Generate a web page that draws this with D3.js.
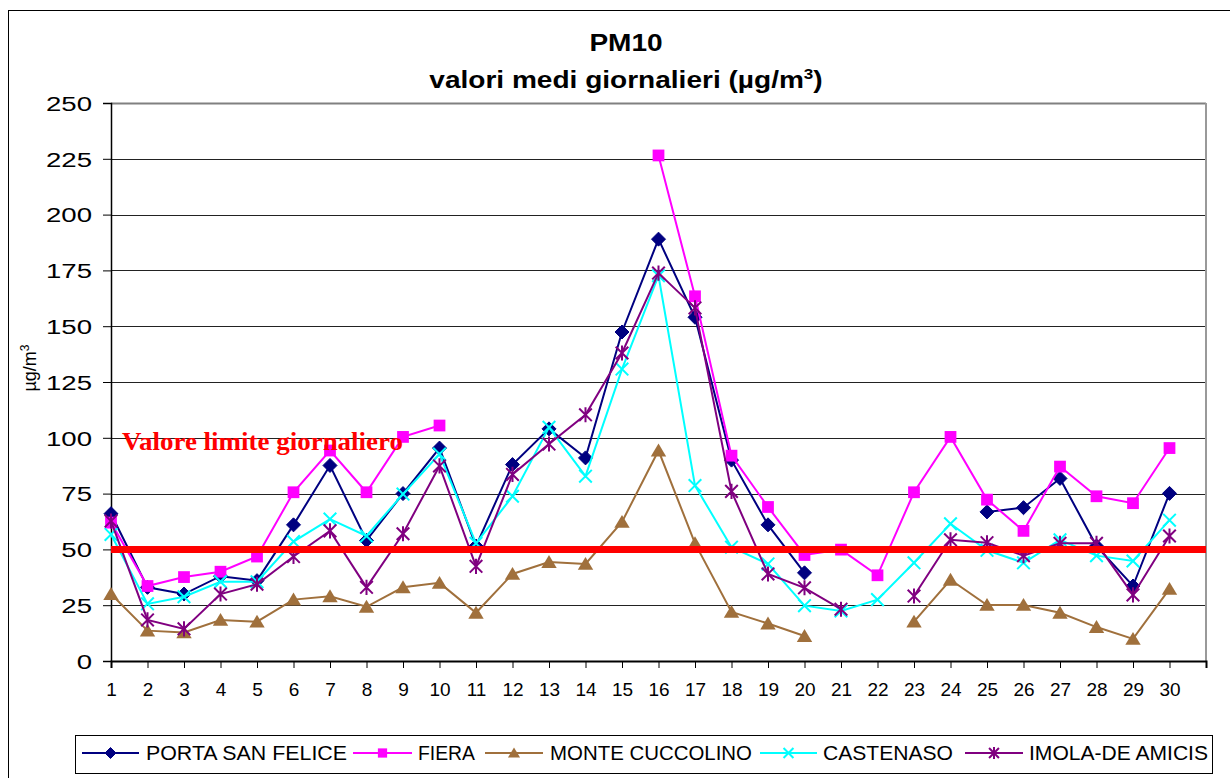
<!DOCTYPE html>
<html><head><meta charset="utf-8">
<script src="https://cdn.jsdelivr.net/npm/d3@7"></script>
<style>body{margin:0;background:#fff}svg{display:block}</style>
</head><body>
<script>
const days = [1,2,3,4,5,6,7,8,9,10,11,12,13,14,15,16,17,18,19,20,21,22,23,24,25,26,27,28,29,30];
const yTicks = [0,25,50,75,100,125,150,175,200,225,250];
const porta = [66,33,30,38,36,61,87.6,54,75,95.4,51.5,88,104,91,147.4,189,154,90,61,39.5,null,null,null,null,66.8,68.7,81.8,51.5,33.6,75.1];
const fiera = [62,33.6,37.6,40,46.8,75.6,94.3,75.6,100.4,105.5,null,null,null,null,null,226.5,163.4,92,69,47.5,49.9,38.4,75.6,100.4,72.3,58.3,87.1,73.8,70.7,95.4];
const monte = [30,13.6,12.8,18.4,17.6,27.5,29,24.3,33,35,21.6,39,44.3,43.5,62.3,94.3,52.7,22,16.8,11.2,null,null,17.6,36.4,25.1,25.1,21.6,15.2,9.9,32.3];
const castenaso = [56.7,25.6,28.8,35.5,35.5,53.5,63.6,56,74.8,92.7,52.7,73.8,104.7,82.8,130.8,172.6,78.6,51,43.5,24.8,22.4,27.5,44,61.5,49.6,44,54.3,47.2,44.8,63.1];
const imola = [62.7,18.4,14.4,30,34.4,46.8,58.3,33,57,87.4,42.4,83.6,97.2,110.3,138,173.8,158.2,76,39,32.8,23.2,null,29.1,54.3,53,47.2,52.7,52.7,29.6,56];
const seriesNames = ["PORTA SAN FELICE","FIERA","MONTE CUCCOLINO","CASTENASO","IMOLA-DE AMICIS"];
const limitValue = 50;
const limitLabel = "Valore limite giornaliero";

const series = [
  {name: seriesNames[0], values: porta, color: "#000080", marker: "diamond"},
  {name: seriesNames[1], values: fiera, color: "#FF00FF", marker: "square"},
  {name: seriesNames[2], values: monte, color: "#A0703C", marker: "triangle"},
  {name: seriesNames[3], values: castenaso, color: "#00FFFF", marker: "x"},
  {name: seriesNames[4], values: imola, color: "#800080", marker: "star"}
];

const W = 1230, H = 778;
const svg = d3.select("body").append("svg").attr("width", W).attr("height", H);
const font = "Arial, 'Liberation Sans', sans-serif";

// outer frame
svg.append("rect").attr("x", 8.5).attr("y", 10.5).attr("width", 1230).attr("height", 800)
  .attr("fill", "none").attr("stroke", "#000").attr("stroke-width", 1);

const x = d3.scaleLinear().domain([1, 31]).range([111, 1206]);
const y = d3.scaleLinear().domain([0, 250]).range([661, 103]);

// title
const tg = svg.append("g").attr("transform", "translate(626,0) scale(1.22,1)");
tg.append("text").attr("x", 0).attr("y", 51).attr("text-anchor", "middle")
  .attr("font-family", font).attr("font-weight", "bold").attr("font-size", 23).text("PM10");
const t2 = tg.append("text").attr("x", 0).attr("y", 88).attr("text-anchor", "middle")
  .attr("font-family", font).attr("font-weight", "bold").attr("font-size", 23);
t2.append("tspan").text("valori medi giornalieri (µg/m");
t2.append("tspan").attr("font-size", 14).attr("dy", -9).text("3");
t2.append("tspan").attr("dy", 9).text(")");

// gridlines
svg.append("g").selectAll("line").data(yTicks.filter(v => v > 0)).join("line")
  .attr("x1", x(1)).attr("x2", x(31)).attr("y1", d => Math.round(y(d)) + 0.5).attr("y2", d => Math.round(y(d)) + 0.5)
  .attr("stroke", d => d === 250 ? "#808080" : "#222").attr("stroke-width", d => d === 250 ? 2 : 1);
// right border of plot
svg.append("line").attr("x1", x(31)).attr("x2", x(31)).attr("y1", y(250)).attr("y2", y(0))
  .attr("stroke", "#999").attr("stroke-width", 2);

// y axis
const yAxis = svg.append("g").attr("transform", `translate(${x(1)},0)`)
  .call(d3.axisLeft(y).tickValues(yTicks).tickSize(8).tickPadding(0).tickFormat(d3.format("d")));
yAxis.select(".domain").attr("stroke", "#000").attr("stroke-width", 1.5);
yAxis.selectAll(".tick line").attr("stroke", "#000");
yAxis.selectAll(".tick text").attr("font-family", font).attr("font-size", 20).attr("fill", "#000")
  .attr("x", 0).attr("transform", "translate(-19,0) scale(1.38,1)").attr("dy", "0.36em");

// x axis
const xAxis = svg.append("g").attr("transform", `translate(0,${y(0)})`)
  .call(d3.axisBottom(x).tickValues(days.concat([31])).tickSize(7).tickPadding(15)
    .tickFormat(d => days.includes(d) ? String(d) : ""));
xAxis.select(".domain").attr("stroke", "#000").attr("stroke-width", 2);
xAxis.selectAll(".tick line").attr("stroke", "#000");
xAxis.selectAll(".tick text").attr("font-family", font).attr("font-size", 19).attr("fill", "#000");

// y label
svg.append("text").attr("transform", "translate(36,368) rotate(-90)").attr("text-anchor", "middle")
  .attr("font-family", font).attr("font-size", 18).attr("fill", "#000")
  .call(t => { t.append("tspan").text("µg/m"); t.append("tspan").attr("font-size", 12).attr("dy", -7).text("3"); });

// markers
function drawMarker(g, type, color, size) {
  const s = size;
  if (type === "diamond") {
    g.append("path").attr("d", `M0,${-s/2}L${s/2},0L0,${s/2}L${-s/2},0Z`).attr("fill", color).attr("stroke", color);
  } else if (type === "square") {
    g.append("rect").attr("x", -s*0.42).attr("y", -s*0.42).attr("width", s*0.84).attr("height", s*0.84).attr("fill", color);
  } else if (type === "triangle") {
    g.append("path").attr("d", `M0,${-s*0.5}L${s*0.55},${s*0.42}L${-s*0.55},${s*0.42}Z`).attr("fill", color);
  } else if (type === "x") {
    const h = s*0.45;
    g.append("path").attr("d", `M${-h},${-h}L${h},${h}M${-h},${h}L${h},${-h}`).attr("stroke", color).attr("stroke-width", 2).attr("fill", "none");
  } else if (type === "star") {
    const h = s*0.45;
    g.append("path").attr("d", `M${-h},${-h}L${h},${h}M${-h},${h}L${h},${-h}M0,${-h*1.2}L0,${h*1.2}`).attr("stroke", color).attr("stroke-width", 2).attr("fill", "none");
  }
}

const line = d3.line().defined(d => d.v != null).x(d => x(d.day)).y(d => y(d.v));
series.forEach(s => {
  const pts = days.map((d, i) => ({day: d, v: s.values[i]}));
  const g = svg.append("g");
  g.append("path").datum(pts).attr("d", line).attr("fill", "none").attr("stroke", s.color).attr("stroke-width", 2);
  pts.filter(p => p.v != null).forEach(p => {
    const mg = g.append("g").attr("transform", `translate(${x(p.day)},${y(p.v)})`);
    drawMarker(mg, s.marker, s.color, 14);
  });
});

// limit line
svg.append("line").attr("x1", x(1)).attr("x2", x(31)).attr("y1", y(limitValue)).attr("y2", y(limitValue))
  .attr("stroke", "#FF0000").attr("stroke-width", 7);
svg.append("text").attr("x", 122).attr("y", 450).attr("fill", "#FF0000")
  .attr("font-family", "'Times New Roman', 'Liberation Serif', serif").attr("font-weight", "bold")
  .attr("font-size", 25).attr("textLength", 281).attr("lengthAdjust", "spacingAndGlyphs").text(limitLabel);

// legend
const lg = svg.append("g");
lg.append("rect").attr("x", 75.5).attr("y", 735.5).attr("width", 1137).attr("height", 38)
  .attr("fill", "#fff").attr("stroke", "#000").attr("stroke-width", 1);
const legendPos = [
  {l1: 82, l2: 139, tx: 146, tw: 201},
  {l1: 353, l2: 412, tx: 418, tw: 57},
  {l1: 485, l2: 543, tx: 550, tw: 202},
  {l1: 760, l2: 817, tx: 823, tw: 130},
  {l1: 965, l2: 1023, tx: 1029, tw: 179}
];
series.forEach((s, i) => {
  const p = legendPos[i];
  const cy = 753;
  lg.append("line").attr("x1", p.l1).attr("x2", p.l2).attr("y1", cy).attr("y2", cy).attr("stroke", s.color).attr("stroke-width", 2);
  const mg = lg.append("g").attr("transform", `translate(${(p.l1 + p.l2) / 2},${cy})`);
  drawMarker(mg, s.marker, s.color, 11);
  lg.append("text").attr("x", p.tx).attr("y", cy + 7).attr("font-family", font).attr("font-size", 20)
    .attr("textLength", p.tw).attr("lengthAdjust", "spacingAndGlyphs").attr("fill", "#000").text(s.name);
});
</script>
</body></html>
